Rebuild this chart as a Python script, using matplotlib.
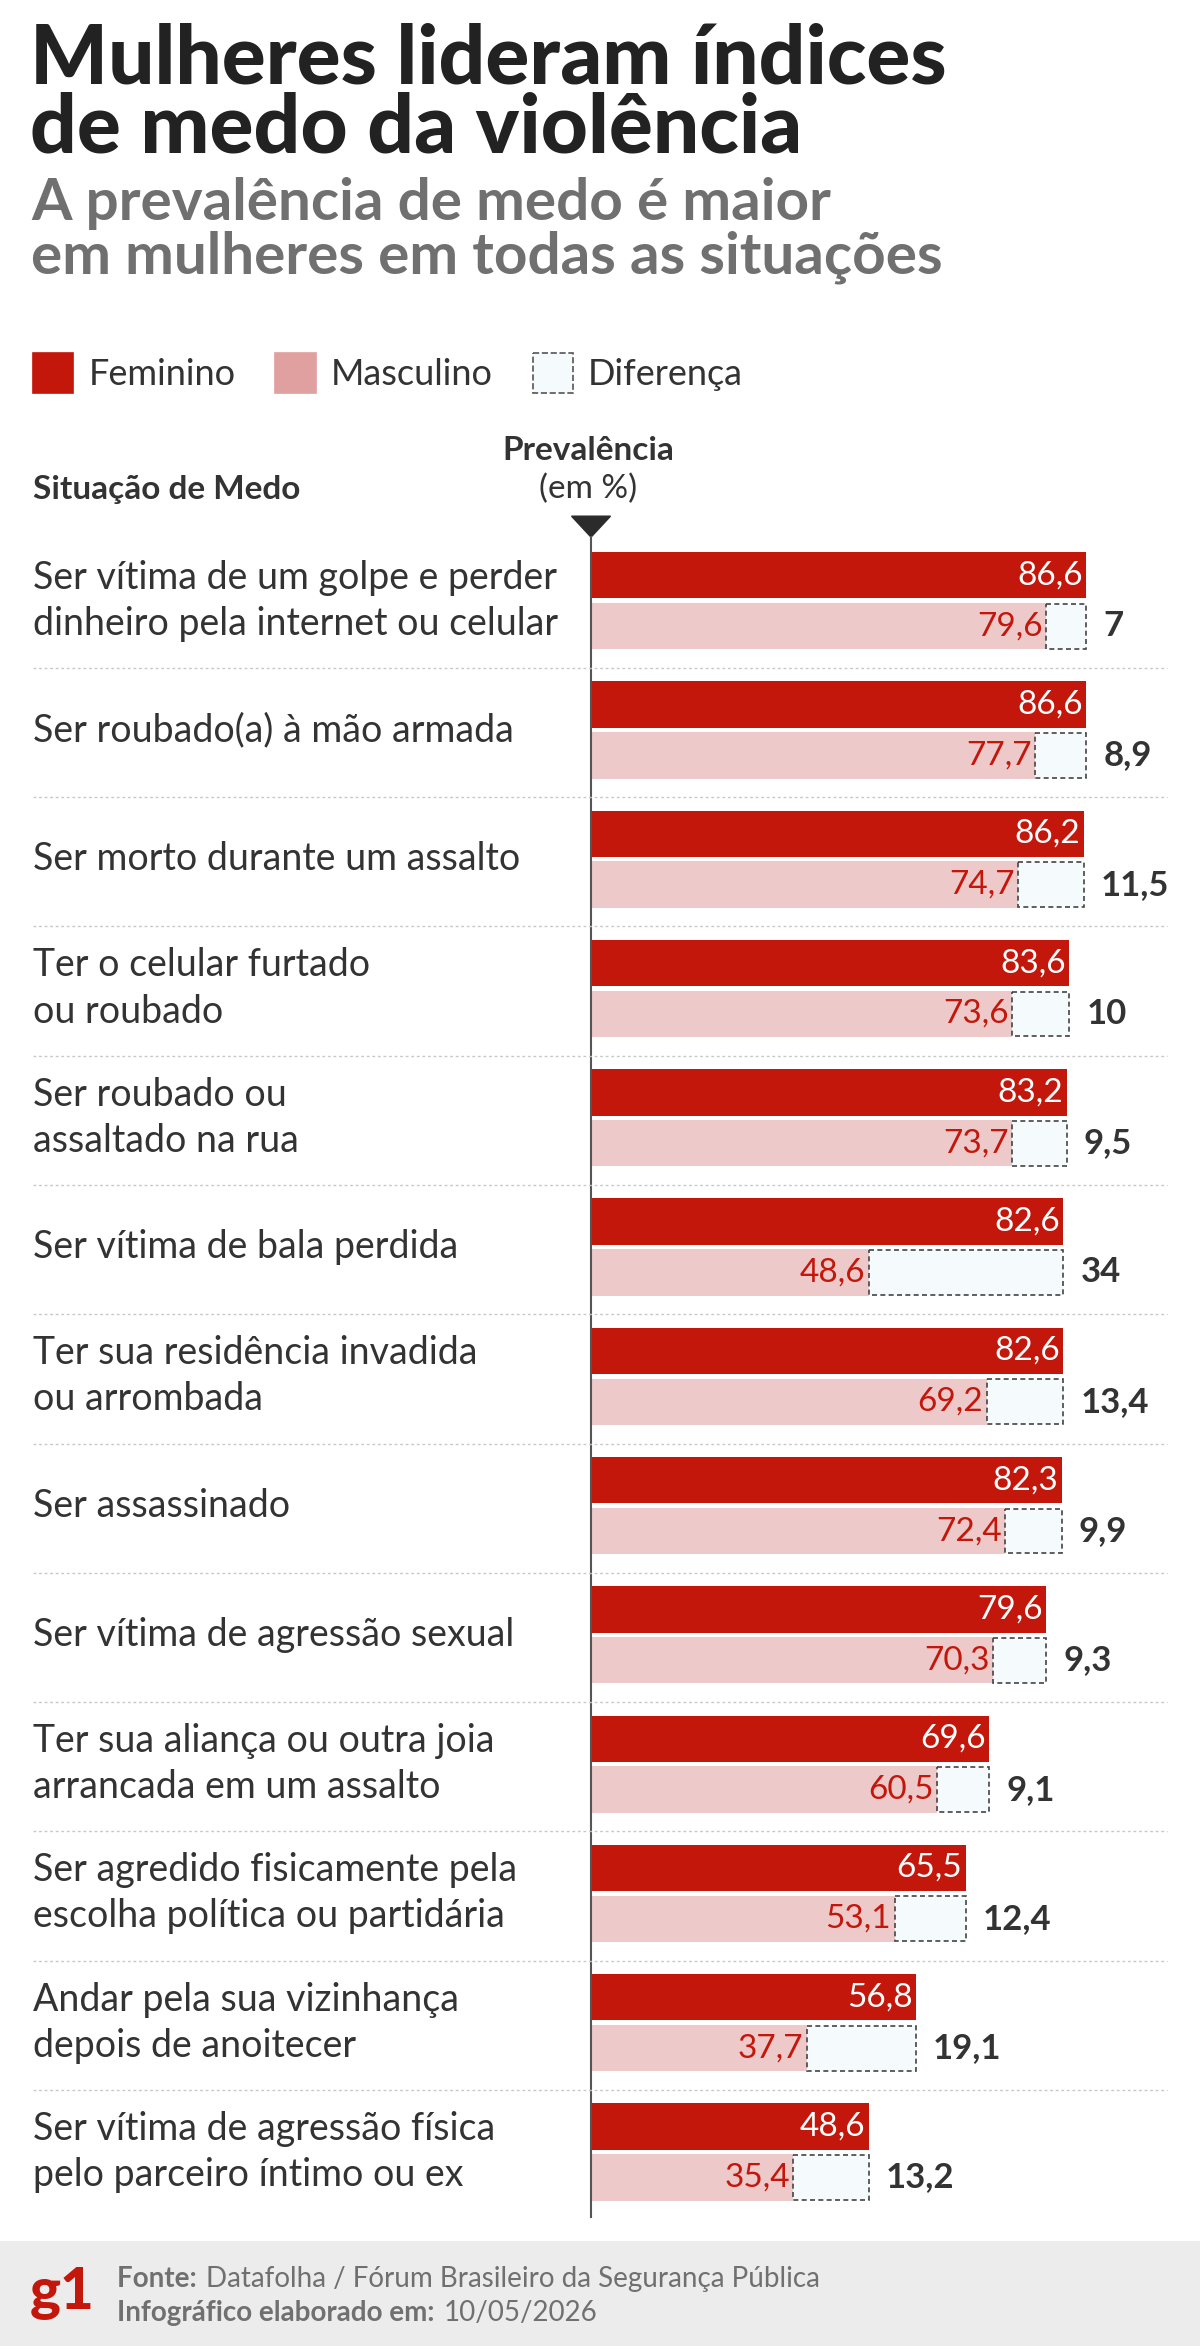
import matplotlib
matplotlib.use("Agg")
import matplotlib.pyplot as plt
from matplotlib.patches import Rectangle, Polygon

labels = ["Ser vítima de um golpe e perder\ndinheiro pela internet ou celular",
          "Ser roubado(a) à mão armada",
          "Ser morto durante um assalto",
          "Ter o celular furtado\nou roubado",
          "Ser roubado ou\nassaltado na rua",
          "Ser vítima de bala perdida",
          "Ter sua residência invadida\nou arrombada",
          "Ser assassinado",
          "Ser vítima de agressão sexual",
          "Ter sua aliança ou outra joia\narrancada em um assalto",
          "Ser agredido fisicamente pela\nescolha política ou partidária",
          "Andar pela sua vizinhança\ndepois de anoitecer",
          "Ser vítima de agressão física\npelo parceiro íntimo ou ex"]
fem = [86.6, 86.6, 86.2, 83.6, 83.2, 82.6, 82.6, 82.3, 79.6, 69.6, 65.5, 56.8, 48.6]
masc = [79.6, 77.7, 74.7, 73.6, 73.7, 48.6, 69.2, 72.4, 70.3, 60.5, 53.1, 37.7, 35.4]
diff = ["7", "8,9", "11,5", "10", "9,5", "34", "13,4", "9,9", "9,3", "9,1", "12,4", "19,1", "13,2"]

def fmt(v):
    return f"{v:.1f}".replace(".", ",")

RED = "#c4170c"; PINK = "#edc9c9"; DARK = "#2b2b2b"; GRAY = "#707070"
FONT = "Lato"
W, H = 802, 1568
S = 3.822
X0 = 395

fig = plt.figure(figsize=(12, 23.46), dpi=100)
ax = fig.add_axes([0, 0, 1, 1])
ax.set_xlim(-X0 / S, (W - X0) / S)
ax.set_ylim(H, 0)
ax.axis("off")

def px(x):
    return (x - X0) / S

for y, t in [(40, "Mulheres lideram índices"), (86, "de medo da violência")]:
    ax.text(px(20), y, t, fontsize=59, fontweight="black", family=FONT, color="#222222", va="center")
for y, t in [(136, "A prevalência de medo é maior"), (172, "em mulheres em todas as situações")]:
    ax.text(px(21), y, t, fontsize=42, fontweight="bold", family=FONT, color=GRAY, va="center")

for lx, col, txt, dashed in [(22, RED, "Feminino", False), (184, "#e0a0a0", "Masculino", False),
                             (356, "#f5fafc", "Diferença", True)]:
    ax.add_patch(Rectangle((px(lx), 236), 27 / S, 27, facecolor=col,
                           edgecolor="#555555" if dashed else col, linestyle="--" if dashed else "-",
                           lw=1.2))
    ax.text(px(lx + 37), 250, txt, fontsize=26, family=FONT, color="#333333", va="center")

ax.text(px(22), 327, "Situação de Medo", fontsize=24, fontweight="bold", family=FONT, color="#333333", va="center")
ax.text(-0.5, 301, "Prevalência", fontsize=24, fontweight="bold", family=FONT, color="#333333",
        va="center", ha="center")
ax.text(-0.5, 327, "(em %)", fontsize=24, family=FONT, color="#333333", va="center", ha="center")
ax.add_patch(Polygon([(px(382), 345), (px(408), 345), (px(395), 359)], closed=True, color=DARK))
ax.plot([0, 0], [359, 1482], color="#555555", lw=1.5)

STEP = 86.4
for i in range(len(labels)):
    yr = 369 + STEP * i
    yp = 403 + STEP * i
    h = 31
    ax.add_patch(Rectangle((0, yr), fem[i], h, facecolor=RED, edgecolor="none"))
    ax.add_patch(Rectangle((0, yp), masc[i], h, facecolor=PINK, edgecolor="none"))
    ax.add_patch(Rectangle((masc[i], yp + 0.5), fem[i] - masc[i], h - 1, facecolor="#f5fafc",
                           edgecolor="#444444", linestyle=(0, (3, 2)), lw=1.2))
    ax.text(fem[i] - 0.6, yr + h / 2, fmt(fem[i]), color="white", fontsize=24, family=FONT,
            ha="right", va="center")
    ax.text(masc[i] - 0.6, yp + h / 2, fmt(masc[i]), color=RED, fontsize=24, family=FONT,
            ha="right", va="center")
    ax.text(fem[i] + 3, yp + h / 2, diff[i], color="#333333", fontsize=25, fontweight="bold",
            family=FONT, ha="left", va="center")
    ax.text(px(22), (yr + yp + h) / 2, labels[i], fontsize=27, family=FONT, color="#333333",
            va="center", linespacing=1.35)
    if i < len(labels) - 1:
        ys = yr + STEP - 9
        ax.plot([px(22), px(780)], [ys, ys], color="#c8c8c8", lw=1, linestyle=(0, (2, 2)))

ax.add_patch(Rectangle((px(0), 1498), W / S, 70, facecolor="#ececec", edgecolor="none"))
ax.text(px(20), 1533, "g1", fontsize=42, fontweight="black", family=FONT, color=RED, va="center")

fig.canvas.draw()
r = fig.canvas.get_renderer()
inv = ax.transData.inverted()
for y, b, n in [(1523, "Fonte: ", "Datafolha / Fórum Brasileiro da Segurança Pública"),
                (1546, "Infográfico elaborado em: ", "10/05/2026")]:
    t = ax.text(px(78), y, b, fontsize=20, fontweight="bold", family=FONT, color=GRAY, va="center")
    bb = t.get_window_extent(r)
    x1 = inv.transform((bb.x1, bb.y0))[0]
    ax.text(x1 + 0.5, y, n, fontsize=20, family=FONT, color=GRAY, va="center")

fig.savefig("out.png", dpi=100, facecolor="white")
